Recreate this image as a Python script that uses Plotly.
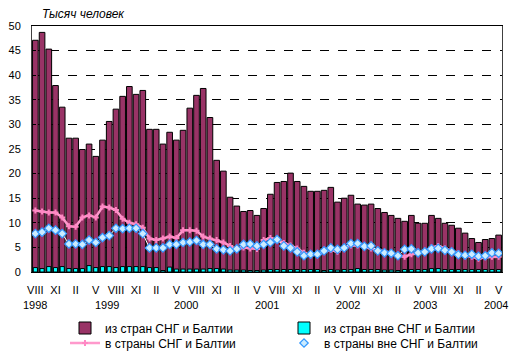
import plotly.graph_objects as go

# Monthly data, VIII 1998 .. V 2004 (70 months), thousand persons
from_cis = [47.1, 48.7, 45.3, 37.9, 33.5,
            27.2, 27.2, 24.9, 26.0, 23.5, 26.8, 30.6, 33.1, 35.7, 37.7, 36.1, 36.9,
            29.0, 29.0, 26.0, 28.4, 26.8, 28.8, 33.3, 35.9, 37.3, 31.4, 22.7, 20.5,
            15.2, 13.4, 12.3, 12.5, 11.5, 12.9, 15.8, 18.2, 18.4, 20.1, 18.4, 17.4,
            16.4, 16.4, 16.6, 17.2, 14.2, 15.0, 15.6, 13.8, 13.6, 13.8, 12.9, 12.1,
            11.5, 10.9, 10.3, 11.5, 9.9, 9.9, 11.5, 10.9, 9.9, 9.5, 8.9, 7.9,
            6.8, 6.0, 6.6, 6.8, 7.5]
from_noncis = [0.9, 0.7, 1.1, 0.9, 1.1,
               0.7, 0.7, 0.7, 1.3, 0.9, 1.1, 1.1, 0.9, 1.1, 1.1, 1.1, 1.1,
               0.9, 0.9, 0.3, 1.0, 0.6, 0.6, 0.6, 0.6, 0.6, 0.7, 0.7, 0.6,
               0.4, 0.4, 0.4, 0.3, 0.3, 0.4, 0.5, 0.5, 0.5, 0.5, 0.5, 0.5,
               0.5, 0.5, 0.3, 0.5, 0.4, 0.5, 0.5, 0.7, 0.5, 0.5, 0.5, 0.4,
               0.4, 0.3, 0.5, 0.5, 0.5, 0.5, 0.7, 0.7, 0.5, 0.5, 0.5, 0.5,
               0.5, 0.5, 0.5, 0.5, 0.5]
to_cis = [12.5, 12.3, 12.1, 12.1, 11.1,
          9.3, 9.2, 11.1, 11.5, 11.1, 13.3, 13.1, 12.6, 10.8, 10.0, 9.7, 9.0,
          6.8, 6.5, 6.8, 7.2, 6.9, 8.5, 8.5, 8.4, 7.2, 6.8, 6.5, 6.0,
          5.3, 4.5, 5.0, 4.8, 4.7, 6.5, 6.9, 6.5, 5.9, 5.4, 4.8, 3.9,
          3.4, 3.6, 4.1, 4.5, 4.1, 5.0, 5.4, 5.4, 5.1, 4.8, 4.4, 4.1,
          3.9, 3.4, 3.1, 3.6, 3.8, 4.1, 5.0, 5.3, 4.8, 4.3, 3.8, 3.4,
          3.1, 2.7, 3.0, 3.1, 3.1]
to_noncis = [7.8, 8.1, 8.9, 8.5, 7.8,
             5.7, 5.7, 5.6, 6.5, 6.0, 7.0, 7.4, 8.9, 8.8, 8.9, 8.9, 7.8,
             4.9, 4.9, 4.9, 5.6, 5.6, 6.0, 6.1, 6.4, 5.6, 5.6, 4.7, 4.5,
             4.3, 4.7, 5.6, 5.7, 5.3, 5.6, 6.0, 6.6, 5.3, 4.9, 4.1, 3.3,
             3.6, 3.6, 4.3, 4.9, 4.6, 4.9, 5.8, 5.8, 5.2, 5.3, 4.3, 3.9,
             3.8, 3.3, 4.6, 4.7, 3.9, 4.1, 4.7, 4.8, 4.4, 4.1, 3.5, 3.4,
             3.6, 3.2, 3.3, 3.9, 3.8]

month_labels = ["VIII", "XI", "II", "V"]
year_labels = ["1998", "1999", "2000", "2001", "2002", "2003", "2004"]
year_label_pos = [0.0, 10.7, 22.5, 34.5, 46.5, 58.0, 68.6]
series_names = ["из стран СНГ и Балтии", "из стран вне СНГ и Балтии",
                "в страны СНГ и Балтии", "в страны вне СНГ и Балтии"]
y_title = "Тысяч человек"

x = list(range(len(from_cis)))
tickvals = x[::3]
ticktext = [month_labels[i % 4] for i in range(len(tickvals))]

FONT = "Liberation Sans, Arial, sans-serif"
OFF = 8                     # page body margin of the html page
W, H = 517 - 2 * OFF, 359 - 2 * OFF
L, R, T, B = 32 - OFF, 15 - OFF, 26 - OFF, 87 - OFF
PW, PH = W - L - R, H - T - B
PLOT_BOTTOM = 272           # page pixel row of the x axis


def py(pix_y):
    # page pixel row -> paper y coordinate
    return (PLOT_BOTTOM - pix_y) / PH


def cy(pix_y):
    # page pixel row -> container y coordinate
    return (H - (pix_y - OFF)) / H


def cx(pix_x):
    return (pix_x - OFF) / W


fig = go.Figure()
fig.add_trace(go.Bar(x=x, y=from_cis, name=series_names[0], width=0.84, legend="legend",
                     marker=dict(color="#993366", line=dict(color="black", width=1))))
fig.add_trace(go.Bar(x=x, y=from_noncis, name=series_names[1], width=0.62, legend="legend",
                     marker=dict(color="#00FFFF", line=dict(color="black", width=1))))
fig.add_trace(go.Scatter(x=x, y=to_cis, name=series_names[2], mode="lines+markers",
                         legend="legend2",
                         line=dict(color="#FF99CC", width=2.5),
                         marker=dict(symbol="cross", size=5, color="#FF88C4")))
fig.add_trace(go.Scatter(x=x, y=to_noncis, name=series_names[3], mode="lines+markers",
                         legend="legend2",
                         line=dict(color="white", width=1),
                         marker=dict(symbol="diamond", size=6.5, color="#CCECFF",
                                     line=dict(color="#3399FF", width=1.2))))

for lab, pos in zip(year_labels, year_label_pos):
    fig.add_annotation(x=pos, y=py(305), xref="x", yref="paper", text=lab,
                       showarrow=False, font=dict(family=FONT, size=11, color="black"),
                       yanchor="middle")

fig.add_annotation(x=(40 - 32) / PW, y=py(14), xref="paper", yref="paper", text=y_title,
                   showarrow=False,
                   font=dict(family=FONT, size=12, color="black", style="italic"),
                   xanchor="left", yanchor="middle")

leg_common = dict(orientation="h", xref="container", yref="container",
                  x=cx(65), xanchor="left", yanchor="middle",
                  entrywidth=174, entrywidthmode="pixels", tracegroupgap=0,
                  font=dict(family=FONT, size=12, color="black"), itemwidth=30,
                  bgcolor="rgba(0,0,0,0)")

fig.update_layout(
    width=W, height=H,
    margin=dict(l=L, r=R, t=T, b=B, autoexpand=False),
    paper_bgcolor="white", plot_bgcolor="white",
    barmode="overlay", bargap=0.15,
    font=dict(family=FONT, size=11, color="black"),
    showlegend=True,
    legend=dict(y=cy(328), **leg_common),
    legend2=dict(y=cy(343), **leg_common),
)
fig.update_xaxes(range=[-0.5, 69.5], tickvals=tickvals, ticktext=ticktext,
                 showgrid=False, showline=True, linecolor="black", linewidth=1,
                 mirror=True, ticks="", ticklabelstandoff=8, zeroline=False,
                 tickfont=dict(family=FONT, size=11))
fig.update_yaxes(range=[0, 50], dtick=5, showgrid=True, gridcolor="black",
                 griddash="dash", gridwidth=1, showline=True, linecolor="#404040",
                 linewidth=1, mirror=True, ticks="inside", ticklen=4, tickcolor="black",
                 ticklabelstandoff=8,
                 zeroline=False, tickfont=dict(family=FONT, size=11))

fig.write_html("out.html")
